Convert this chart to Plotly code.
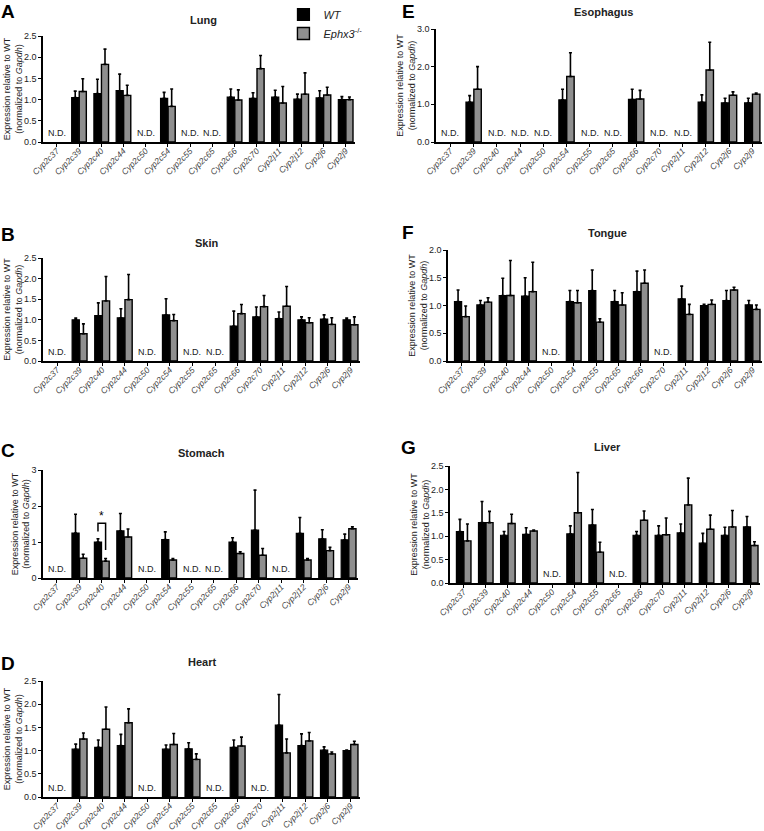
import plotly.graph_objects as go

W, H = 764, 831

categories = ["Cyp2c37", "Cyp2c39", "Cyp2c40", "Cyp2c44", "Cyp2c50", "Cyp2c54", "Cyp2c55",
              "Cyp2c65", "Cyp2c66", "Cyp2c70", "Cyp2j11", "Cyp2j12", "Cyp2j6", "Cyp2j9"]

# ---- data (None = N.D.) ----
lung_wt = [None, 1.05, 1.14, 1.21, None, 1.03, None, None, 1.06, 1.03, 1.06, 1.01, 1.04, 1.00]
lung_wt_err = [None, 0.15, 0.34, 0.39, None, 0.14, None, None, 0.19, 0.13, 0.16, 0.12, 0.17, 0.07]
lung_ko = [None, 1.19, 1.83, 1.10, None, 0.84, None, None, 0.99, 1.73, 0.92, 1.13, 1.11, 1.00]
lung_ko_err = [None, 0.30, 0.36, 0.24, None, 0.41, None, None, 0.24, 0.31, 0.39, 0.50, 0.18, 0.06]

skin_wt = [None, 1.00, 1.10, 1.05, None, 1.12, None, None, 0.85, 1.07, 1.03, 1.00, 1.02, 1.00]
skin_wt_err = [None, 0.04, 0.31, 0.22, None, 0.39, None, None, 0.36, 0.24, 0.16, 0.07, 0.10, 0.04]
skin_ko = [None, 0.66, 1.46, 1.49, None, 0.98, None, None, 1.15, 1.32, 1.33, 0.93, 0.89, 0.88]
skin_ko_err = [None, 0.24, 0.59, 0.61, None, 0.15, None, None, 0.22, 0.27, 0.48, 0.12, 0.16, 0.19]

stomach_wt = [None, 1.25, 1.00, 1.31, None, 1.07, None, None, 1.00, 1.33, None, 1.24, 1.09, 1.06]
stomach_wt_err = [None, 0.52, 0.09, 0.48, None, 0.21, None, None, 0.12, 1.11, None, 0.44, 0.25, 0.16]
stomach_ko = [None, 0.55, 0.47, 1.14, None, 0.50, None, None, 0.68, 0.63, None, 0.50, 0.76, 1.37]
stomach_ko_err = [None, 0.11, 0.07, 0.22, None, 0.04, None, None, 0.05, 0.19, None, 0.04, 0.09, 0.05]

heart_wt = [None, 1.03, 1.07, 1.11, None, 1.03, 1.04, None, 1.07, None, 1.55, 1.11, 1.01, 1.00]
heart_wt_err = [None, 0.11, 0.16, 0.24, None, 0.09, 0.13, None, 0.16, None, 0.66, 0.25, 0.07, 0.01]
heart_ko = [None, 1.25, 1.46, 1.60, None, 1.13, 0.81, None, 1.10, None, 0.95, 1.21, 0.93, 1.13]
heart_ko_err = [None, 0.13, 0.48, 0.30, None, 0.24, 0.12, None, 0.19, None, 0.30, 0.18, 0.04, 0.07]

esophagus_wt = [None, 1.06, None, None, None, 1.12, None, None, 1.13, None, None, 1.06, 1.04, 1.04]
esophagus_wt_err = [None, 0.17, None, None, None, 0.28, None, None, 0.27, None, None, 0.19, 0.12, 0.12]
esophagus_ko = [None, 1.40, None, None, None, 1.74, None, None, 1.14, None, None, 1.91, 1.24, 1.27]
esophagus_ko_err = [None, 0.60, None, None, None, 0.63, None, None, 0.23, None, None, 0.74, 0.09, 0.03]

tongue_wt = [1.07, 1.01, 1.18, 1.17, None, 1.07, 1.27, 1.07, 1.25, None, 1.12, 1.00, 1.09, 1.01]
tongue_wt_err = [0.21, 0.08, 0.31, 0.33, None, 0.20, 0.37, 0.20, 0.37, None, 0.23, 0.02, 0.18, 0.08]
tongue_ko = [0.80, 1.06, 1.18, 1.25, None, 1.05, 0.70, 1.01, 1.40, None, 0.84, 1.02, 1.28, 0.93]
tongue_ko_err = [0.19, 0.08, 0.63, 0.53, None, 0.22, 0.06, 0.22, 0.24, None, 0.18, 0.08, 0.05, 0.08]

liver_wt = [1.10, 1.29, 1.02, 1.04, None, 1.05, 1.24, None, 1.02, 1.02, 1.07, 0.85, 1.02, 1.20]
liver_wt_err = [0.26, 0.45, 0.08, 0.14, None, 0.17, 0.33, None, 0.08, 0.20, 0.19, 0.21, 0.17, 0.22]
liver_ko = [0.90, 1.29, 1.27, 1.11, None, 1.50, 0.66, None, 1.34, 1.03, 1.67, 1.15, 1.20, 0.80]
liver_ko_err = [0.36, 0.24, 0.20, 0.02, None, 0.86, 0.21, None, 0.20, 0.36, 0.57, 0.30, 0.35, 0.08]

FONT = "Liberation Sans, Arial, sans-serif"
KO_COLOR = "#8f8f8f"
BARGAP = 0.32
GROUPGAP = 0.06

panels = [
    dict(letter="A", title="Lung", wt=lung_wt, we=lung_wt_err, ko=lung_ko, ke=lung_ko_err,
         box=(43, 355, 36, 142), ymax=2.5, dtick=0.5, fmt=".1f", tpos=(203, 20), lpos=(8, 12)),
    dict(letter="B", title="Skin", wt=skin_wt, we=skin_wt_err, ko=skin_ko, ke=skin_ko_err,
         box=(43, 360, 258, 361), ymax=2.5, dtick=0.5, fmt=".1f", tpos=(207, 243), lpos=(8, 234)),
    dict(letter="C", title="Stomach", wt=stomach_wt, we=stomach_wt_err, ko=stomach_ko, ke=stomach_ko_err,
         box=(43, 358, 470, 578), ymax=3, dtick=1, fmt="d", tpos=(202, 453), lpos=(8, 450)),
    dict(letter="D", title="Heart", wt=heart_wt, we=heart_wt_err, ko=heart_ko, ke=heart_ko_err,
         box=(43, 360, 681, 797), ymax=2.5, dtick=0.5, fmt=".1f", tpos=(202, 662), lpos=(8, 663)),
    dict(letter="E", title="Esophagus", wt=esophagus_wt, we=esophagus_wt_err, ko=esophagus_ko,
         ke=esophagus_ko_err, box=(436, 762, 29, 142), ymax=3.0, dtick=1, fmt=".1f",
         tpos=(603, 12), lpos=(408, 12)),
    dict(letter="F", title="Tongue", wt=tongue_wt, we=tongue_wt_err, ko=tongue_ko, ke=tongue_ko_err,
         box=(448, 762, 250, 361), ymax=2.0, dtick=0.5, fmt=".1f", tpos=(607, 233), lpos=(408, 232)),
    dict(letter="G", title="Liver", wt=liver_wt, we=liver_wt_err, ko=liver_ko, ke=liver_ko_err,
         box=(450, 760, 466, 583), ymax=2.5, dtick=0.5, fmt=".1f", tpos=(607, 447), lpos=(408, 447)),
]

fig = go.Figure()
annotations = []
shapes = []

for i, p in enumerate(panels):
    n = i + 1
    xa = "x" if n == 1 else f"x{n}"
    ya = "y" if n == 1 else f"y{n}"
    x0, x1, yt, yb = p["box"]

    fig.add_trace(go.Bar(
        x=categories, y=p["wt"], name="<i>WT</i>", legendgroup="wt", showlegend=(n == 1),
        marker=dict(color="black", line=dict(color="black", width=1.2)),
        error_y=dict(type="data", symmetric=False, array=p["we"],
                     arrayminus=[0 if v is not None else None for v in p["we"]],
                     color="black", thickness=1.6, width=1.5),
        xaxis=xa, yaxis=ya))
    fig.add_trace(go.Bar(
        x=categories, y=p["ko"], name="<i>Ephx3</i><sup>-/-</sup>", legendgroup="ko", showlegend=(n == 1),
        marker=dict(color=KO_COLOR, line=dict(color="black", width=1.4)),
        error_y=dict(type="data", symmetric=False, array=p["ke"],
                     arrayminus=[0 if v is not None else None for v in p["ke"]],
                     color="black", thickness=1.6, width=1.5),
        xaxis=xa, yaxis=ya))

    xkey = "xaxis" if n == 1 else f"xaxis{n}"
    ykey = "yaxis" if n == 1 else f"yaxis{n}"
    fig.update_layout(**{
        xkey: dict(domain=[x0 / W, x1 / W], anchor=ya, type="category", automargin=False,
                   categoryorder="array", categoryarray=categories,
                   range=[-0.62, 13.42], showline=True, linecolor="black", linewidth=1.5,
                   ticks="outside", ticklen=3, tickwidth=1, tickcolor="black",
                   tickangle=-45, showgrid=False, zeroline=False, ticklabelstandoff=-4,
                   tickfont=dict(family=FONT, size=8.5, color="#444", style="italic")),
        ykey: dict(domain=[1 - yb / H, 1 - yt / H], anchor=xa, range=[0, p["ymax"]], automargin=False,
                   dtick=p["dtick"], tick0=0, tickformat=p["fmt"],
                   showline=True, linecolor="black", linewidth=1.5,
                   ticks="outside", ticklen=3, tickwidth=1, tickcolor="black",
                   showgrid=False, zeroline=False,
                   tickfont=dict(family=FONT, size=9, color="#222"),
                   title=dict(text="Expression relative to WT<br>(normalized to <i>Gapdh</i>)",
                              font=dict(family=FONT, size=9, color="#222"), standoff=0)),
    })

    for c, w, k in zip(categories, p["wt"], p["ko"]):
        if w is None and k is None:
            annotations.append(dict(x=c, y=0, xref=xa, yref=ya, text="N.D.", showarrow=False,
                                    yanchor="bottom", yshift=2,
                                    font=dict(family=FONT, size=9, color="#222")))
    annotations.append(dict(x=p["tpos"][0] / W, y=1 - p["tpos"][1] / H, xref="paper", yref="paper",
                            text=f"<b>{p['title']}</b>", showarrow=False, xanchor="center",
                            yanchor="middle", font=dict(family=FONT, size=11, color="#222")))
    annotations.append(dict(x=p["lpos"][0] / W, y=1 - p["lpos"][1] / H, xref="paper", yref="paper",
                            text=f"<b>{p['letter']}</b>", showarrow=False, xanchor="center",
                            yanchor="middle", borderpad=0,
                            font=dict(family=FONT, size=19, color="black")))

# significance bracket on Stomach Cyp2c40
half = (1 - BARGAP) / 4
ci = categories.index("Cyp2c40")
shapes.append(dict(type="path", xref="x3", yref="y3",
                   path=f"M {ci - half},1.29 L {ci - half},1.52 L {ci + half},1.52 L {ci + half},0.78",
                   line=dict(color="black", width=1.5)))
annotations.append(dict(x=ci, y=1.52, xref="x3", yref="y3", text="*", showarrow=False,
                        yanchor="bottom", yshift=-2, font=dict(family=FONT, size=12, color="black")))

fig.update_layout(
    width=W, height=H, margin=dict(l=0, r=0, t=0, b=0, autoexpand=False),
    paper_bgcolor="white", plot_bgcolor="white",
    barmode="group", bargap=BARGAP, bargroupgap=GROUPGAP,
    annotations=annotations, shapes=shapes,
    font=dict(family=FONT, color="#222"),
    legend=dict(x=0.371, y=1.0, xanchor="left", yanchor="top", bgcolor="rgba(0,0,0,0)",
                font=dict(family=FONT, size=11, color="#222"), tracegroupgap=0,
                itemwidth=30),
)

fig.write_html("out.html", config={"displayModeBar": False},
               post_script="document.body.style.margin='0';document.body.style.overflow='hidden';")
